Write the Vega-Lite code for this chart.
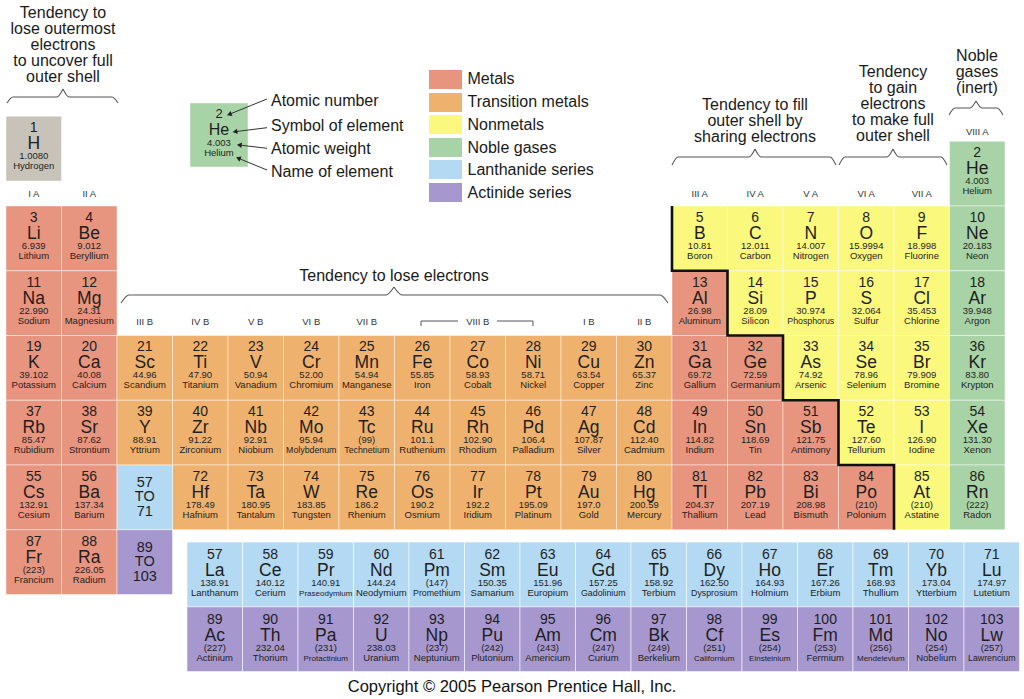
{
  "$schema": "https://vega.github.io/schema/vega-lite/v6.json",
  "width": 1024,
  "height": 699,
  "padding": 0,
  "autosize": {"type": "none"},
  "background": "#ffffff",
  "config": {"view": {"stroke": null}, "text": {"font": "Liberation Sans"}},
  "datasets": {
    "elements": [
      {"n": 1, "s": "H", "w": "1.0080", "name": "Hydrogen", "col": 1, "row": 1, "type": "hydrogen"},
      {"n": 2, "s": "He", "w": "4.003", "name": "Helium", "col": 18, "row": 1, "type": "noble"},
      {"n": 3, "s": "Li", "w": "6.939", "name": "Lithium", "col": 1, "row": 2, "type": "metal"},
      {"n": 4, "s": "Be", "w": "9.012", "name": "Beryllium", "col": 2, "row": 2, "type": "metal"},
      {"n": 5, "s": "B", "w": "10.81", "name": "Boron", "col": 13, "row": 2, "type": "nonmetal"},
      {"n": 6, "s": "C", "w": "12.011", "name": "Carbon", "col": 14, "row": 2, "type": "nonmetal"},
      {"n": 7, "s": "N", "w": "14.007", "name": "Nitrogen", "col": 15, "row": 2, "type": "nonmetal"},
      {"n": 8, "s": "O", "w": "15.9994", "name": "Oxygen", "col": 16, "row": 2, "type": "nonmetal"},
      {"n": 9, "s": "F", "w": "18.998", "name": "Fluorine", "col": 17, "row": 2, "type": "nonmetal"},
      {"n": 10, "s": "Ne", "w": "20.183", "name": "Neon", "col": 18, "row": 2, "type": "noble"},
      {"n": 11, "s": "Na", "w": "22.990", "name": "Sodium", "col": 1, "row": 3, "type": "metal"},
      {"n": 12, "s": "Mg", "w": "24.31", "name": "Magnesium", "col": 2, "row": 3, "type": "metal"},
      {"n": 13, "s": "Al", "w": "26.98", "name": "Aluminum", "col": 13, "row": 3, "type": "metal"},
      {"n": 14, "s": "Si", "w": "28.09", "name": "Silicon", "col": 14, "row": 3, "type": "nonmetal"},
      {"n": 15, "s": "P", "w": "30.974", "name": "Phosphorus", "col": 15, "row": 3, "type": "nonmetal"},
      {"n": 16, "s": "S", "w": "32.064", "name": "Sulfur", "col": 16, "row": 3, "type": "nonmetal"},
      {"n": 17, "s": "Cl", "w": "35.453", "name": "Chlorine", "col": 17, "row": 3, "type": "nonmetal"},
      {"n": 18, "s": "Ar", "w": "39.948", "name": "Argon", "col": 18, "row": 3, "type": "noble"},
      {"n": 19, "s": "K", "w": "39.102", "name": "Potassium", "col": 1, "row": 4, "type": "metal"},
      {"n": 20, "s": "Ca", "w": "40.08", "name": "Calcium", "col": 2, "row": 4, "type": "metal"},
      {"n": 21, "s": "Sc", "w": "44.96", "name": "Scandium", "col": 3, "row": 4, "type": "transition"},
      {"n": 22, "s": "Ti", "w": "47.90", "name": "Titanium", "col": 4, "row": 4, "type": "transition"},
      {"n": 23, "s": "V", "w": "50.94", "name": "Vanadium", "col": 5, "row": 4, "type": "transition"},
      {"n": 24, "s": "Cr", "w": "52.00", "name": "Chromium", "col": 6, "row": 4, "type": "transition"},
      {"n": 25, "s": "Mn", "w": "54.94", "name": "Manganese", "col": 7, "row": 4, "type": "transition"},
      {"n": 26, "s": "Fe", "w": "55.85", "name": "Iron", "col": 8, "row": 4, "type": "transition"},
      {"n": 27, "s": "Co", "w": "58.93", "name": "Cobalt", "col": 9, "row": 4, "type": "transition"},
      {"n": 28, "s": "Ni", "w": "58.71", "name": "Nickel", "col": 10, "row": 4, "type": "transition"},
      {"n": 29, "s": "Cu", "w": "63.54", "name": "Copper", "col": 11, "row": 4, "type": "transition"},
      {"n": 30, "s": "Zn", "w": "65.37", "name": "Zinc", "col": 12, "row": 4, "type": "transition"},
      {"n": 31, "s": "Ga", "w": "69.72", "name": "Gallium", "col": 13, "row": 4, "type": "metal"},
      {"n": 32, "s": "Ge", "w": "72.59", "name": "Germanium", "col": 14, "row": 4, "type": "metal"},
      {"n": 33, "s": "As", "w": "74.92", "name": "Arsenic", "col": 15, "row": 4, "type": "nonmetal"},
      {"n": 34, "s": "Se", "w": "78.96", "name": "Selenium", "col": 16, "row": 4, "type": "nonmetal"},
      {"n": 35, "s": "Br", "w": "79.909", "name": "Bromine", "col": 17, "row": 4, "type": "nonmetal"},
      {"n": 36, "s": "Kr", "w": "83.80", "name": "Krypton", "col": 18, "row": 4, "type": "noble"},
      {"n": 37, "s": "Rb", "w": "85.47", "name": "Rubidium", "col": 1, "row": 5, "type": "metal"},
      {"n": 38, "s": "Sr", "w": "87.62", "name": "Strontium", "col": 2, "row": 5, "type": "metal"},
      {"n": 39, "s": "Y", "w": "88.91", "name": "Yttrium", "col": 3, "row": 5, "type": "transition"},
      {"n": 40, "s": "Zr", "w": "91.22", "name": "Zirconium", "col": 4, "row": 5, "type": "transition"},
      {"n": 41, "s": "Nb", "w": "92.91", "name": "Niobium", "col": 5, "row": 5, "type": "transition"},
      {"n": 42, "s": "Mo", "w": "95.94", "name": "Molybdenum", "col": 6, "row": 5, "type": "transition"},
      {"n": 43, "s": "Tc", "w": "(99)", "name": "Technetium", "col": 7, "row": 5, "type": "transition"},
      {"n": 44, "s": "Ru", "w": "101.1", "name": "Ruthenium", "col": 8, "row": 5, "type": "transition"},
      {"n": 45, "s": "Rh", "w": "102.90", "name": "Rhodium", "col": 9, "row": 5, "type": "transition"},
      {"n": 46, "s": "Pd", "w": "106.4", "name": "Palladium", "col": 10, "row": 5, "type": "transition"},
      {"n": 47, "s": "Ag", "w": "107.87", "name": "Silver", "col": 11, "row": 5, "type": "transition"},
      {"n": 48, "s": "Cd", "w": "112.40", "name": "Cadmium", "col": 12, "row": 5, "type": "transition"},
      {"n": 49, "s": "In", "w": "114.82", "name": "Indium", "col": 13, "row": 5, "type": "metal"},
      {"n": 50, "s": "Sn", "w": "118.69", "name": "Tin", "col": 14, "row": 5, "type": "metal"},
      {"n": 51, "s": "Sb", "w": "121.75", "name": "Antimony", "col": 15, "row": 5, "type": "metal"},
      {"n": 52, "s": "Te", "w": "127.60", "name": "Tellurium", "col": 16, "row": 5, "type": "nonmetal"},
      {"n": 53, "s": "I", "w": "126.90", "name": "Iodine", "col": 17, "row": 5, "type": "nonmetal"},
      {"n": 54, "s": "Xe", "w": "131.30", "name": "Xenon", "col": 18, "row": 5, "type": "noble"},
      {"n": 55, "s": "Cs", "w": "132.91", "name": "Cesium", "col": 1, "row": 6, "type": "metal"},
      {"n": 56, "s": "Ba", "w": "137.34", "name": "Barium", "col": 2, "row": 6, "type": "metal"},
      {"n": 72, "s": "Hf", "w": "178.49", "name": "Hafnium", "col": 4, "row": 6, "type": "transition"},
      {"n": 73, "s": "Ta", "w": "180.95", "name": "Tantalum", "col": 5, "row": 6, "type": "transition"},
      {"n": 74, "s": "W", "w": "183.85", "name": "Tungsten", "col": 6, "row": 6, "type": "transition"},
      {"n": 75, "s": "Re", "w": "186.2", "name": "Rhenium", "col": 7, "row": 6, "type": "transition"},
      {"n": 76, "s": "Os", "w": "190.2", "name": "Osmium", "col": 8, "row": 6, "type": "transition"},
      {"n": 77, "s": "Ir", "w": "192.2", "name": "Iridium", "col": 9, "row": 6, "type": "transition"},
      {"n": 78, "s": "Pt", "w": "195.09", "name": "Platinum", "col": 10, "row": 6, "type": "transition"},
      {"n": 79, "s": "Au", "w": "197.0", "name": "Gold", "col": 11, "row": 6, "type": "transition"},
      {"n": 80, "s": "Hg", "w": "200.59", "name": "Mercury", "col": 12, "row": 6, "type": "transition"},
      {"n": 81, "s": "Tl", "w": "204.37", "name": "Thallium", "col": 13, "row": 6, "type": "metal"},
      {"n": 82, "s": "Pb", "w": "207.19", "name": "Lead", "col": 14, "row": 6, "type": "metal"},
      {"n": 83, "s": "Bi", "w": "208.98", "name": "Bismuth", "col": 15, "row": 6, "type": "metal"},
      {"n": 84, "s": "Po", "w": "(210)", "name": "Polonium", "col": 16, "row": 6, "type": "metal"},
      {"n": 85, "s": "At", "w": "(210)", "name": "Astatine", "col": 17, "row": 6, "type": "nonmetal"},
      {"n": 86, "s": "Rn", "w": "(222)", "name": "Radon", "col": 18, "row": 6, "type": "noble"},
      {"n": 87, "s": "Fr", "w": "(223)", "name": "Francium", "col": 1, "row": 7, "type": "metal"},
      {"n": 88, "s": "Ra", "w": "226.05", "name": "Radium", "col": 2, "row": 7, "type": "metal"}
    ],
    "fblock": [
      {"n": 57, "s": "La", "w": "138.91", "name": "Lanthanum", "col": 4, "row": 8, "type": "lanthanide"},
      {"n": 58, "s": "Ce", "w": "140.12", "name": "Cerium", "col": 5, "row": 8, "type": "lanthanide"},
      {"n": 59, "s": "Pr", "w": "140.91", "name": "Praseodymium", "col": 6, "row": 8, "type": "lanthanide"},
      {"n": 60, "s": "Nd", "w": "144.24", "name": "Neodymium", "col": 7, "row": 8, "type": "lanthanide"},
      {"n": 61, "s": "Pm", "w": "(147)", "name": "Promethium", "col": 8, "row": 8, "type": "lanthanide"},
      {"n": 62, "s": "Sm", "w": "150.35", "name": "Samarium", "col": 9, "row": 8, "type": "lanthanide"},
      {"n": 63, "s": "Eu", "w": "151.96", "name": "Europium", "col": 10, "row": 8, "type": "lanthanide"},
      {"n": 64, "s": "Gd", "w": "157.25", "name": "Gadolinium", "col": 11, "row": 8, "type": "lanthanide"},
      {"n": 65, "s": "Tb", "w": "158.92", "name": "Terbium", "col": 12, "row": 8, "type": "lanthanide"},
      {"n": 66, "s": "Dy", "w": "162.50", "name": "Dysprosium", "col": 13, "row": 8, "type": "lanthanide"},
      {"n": 67, "s": "Ho", "w": "164.93", "name": "Holmium", "col": 14, "row": 8, "type": "lanthanide"},
      {"n": 68, "s": "Er", "w": "167.26", "name": "Erbium", "col": 15, "row": 8, "type": "lanthanide"},
      {"n": 69, "s": "Tm", "w": "168.93", "name": "Thullium", "col": 16, "row": 8, "type": "lanthanide"},
      {"n": 70, "s": "Yb", "w": "173.04", "name": "Ytterbium", "col": 17, "row": 8, "type": "lanthanide"},
      {"n": 71, "s": "Lu", "w": "174.97", "name": "Lutetium", "col": 18, "row": 8, "type": "lanthanide"},
      {"n": 89, "s": "Ac", "w": "(227)", "name": "Actinium", "col": 4, "row": 9, "type": "actinide"},
      {"n": 90, "s": "Th", "w": "232.04", "name": "Thorium", "col": 5, "row": 9, "type": "actinide"},
      {"n": 91, "s": "Pa", "w": "(231)", "name": "Protactinium", "col": 6, "row": 9, "type": "actinide"},
      {"n": 92, "s": "U", "w": "238.03", "name": "Uranium", "col": 7, "row": 9, "type": "actinide"},
      {"n": 93, "s": "Np", "w": "(237)", "name": "Neptunium", "col": 8, "row": 9, "type": "actinide"},
      {"n": 94, "s": "Pu", "w": "(242)", "name": "Plutonium", "col": 9, "row": 9, "type": "actinide"},
      {"n": 95, "s": "Am", "w": "(243)", "name": "Americium", "col": 10, "row": 9, "type": "actinide"},
      {"n": 96, "s": "Cm", "w": "(247)", "name": "Curium", "col": 11, "row": 9, "type": "actinide"},
      {"n": 97, "s": "Bk", "w": "(249)", "name": "Berkelium", "col": 12, "row": 9, "type": "actinide"},
      {"n": 98, "s": "Cf", "w": "(251)", "name": "Californium", "col": 13, "row": 9, "type": "actinide"},
      {"n": 99, "s": "Es", "w": "(254)", "name": "Einsteinium", "col": 14, "row": 9, "type": "actinide"},
      {"n": 100, "s": "Fm", "w": "(253)", "name": "Fermium", "col": 15, "row": 9, "type": "actinide"},
      {"n": 101, "s": "Md", "w": "(256)", "name": "Mendelevium", "col": 16, "row": 9, "type": "actinide"},
      {"n": 102, "s": "No", "w": "(254)", "name": "Nobelium", "col": 17, "row": 9, "type": "actinide"},
      {"n": 103, "s": "Lw", "w": "(257)", "name": "Lawrencium", "col": 18, "row": 9, "type": "actinide"}
    ],
    "placeholders": [
      {"col": 3, "row": 6, "type": "lanthanide", "label": "57\nTO\n71"},
      {"col": 3, "row": 7, "type": "actinide", "label": "89\nTO\n103"}
    ],
    "key": [
      {"col": 4.3378, "row": 0.4035, "type": "noble", "n": 2, "s": "He", "w": "4.003", "name": "Helium"}
    ],
    "keylabels": [
      {"col": 5.2748, "row": -0.1293, "text": "Atomic number"},
      {"col": 5.2748, "row": 0.2568, "text": "Symbol of element"},
      {"col": 5.2748, "row": 0.6197, "text": "Atomic weight"},
      {"col": 5.2748, "row": 0.9749, "text": "Name of element"}
    ],
    "arrows": [
      {"col": 5.2027, "row": -0.1525, "col2": 4.5225, "row2": 0.0838},
      {"col": 5.2027, "row": 0.2907, "col2": 4.6261, "row2": 0.3521},
      {"col": 5.2027, "row": 0.6089, "col2": 4.7036, "row2": 0.5579},
      {"col": 5.2027, "row": 0.9440, "col2": 4.6856, "row2": 0.7625}
    ],
    "arrowheads": [
      {"col": 4.5225, "row": 0.0838, "ang": 339.2},
      {"col": 4.6261, "row": 0.3521, "ang": 352.9},
      {"col": 4.7036, "row": 0.5579, "ang": 6.8},
      {"col": 4.6856, "row": 0.7625, "ang": 22.2}
    ],
    "legend": [
      {"col": 8.4189, "row": -0.4537, "type": "metal", "label": "Metals"},
      {"col": 8.4189, "row": -0.0985, "type": "transition", "label": "Transition metals"},
      {"col": 8.4189, "row": 0.2413, "type": "nonmetal", "label": "Nonmetals"},
      {"col": 8.4189, "row": 0.5965, "type": "noble", "label": "Noble gases"},
      {"col": 8.4189, "row": 0.9363, "type": "lanthanide", "label": "Lanthanide series"},
      {"col": 8.4189, "row": 1.2915, "type": "actinide", "label": "Actinide series"}
    ],
    "notes": [
      {"col": 1.527, "row": -1.3958, "text": "Tendency to\nlose outermost\nelectrons\nto uncover full\nouter shell"},
      {"col": 7.491, "row": 2.6583, "text": "Tendency to lose electrons"},
      {"col": 13.9955, "row": 0.0174, "text": "Tendency to fill\nouter shell by\nsharing electrons"},
      {"col": 16.482, "row": -0.4923, "text": "Tendency\nto gain\nelectrons\nto make full\nouter shell"},
      {"col": 17.9955, "row": -0.7394, "text": "Noble\ngases\n(inert)"}
    ],
    "groups": [
      {"col": 1, "row": 1.36, "label": "I A"},
      {"col": 2, "row": 1.36, "label": "II A"},
      {"col": 13, "row": 1.36, "label": "III A"},
      {"col": 14, "row": 1.36, "label": "IV A"},
      {"col": 15, "row": 1.36, "label": "V A"},
      {"col": 16, "row": 1.36, "label": "VI A"},
      {"col": 17, "row": 1.36, "label": "VII A"},
      {"col": 18, "row": 0.4, "label": "VIII A"},
      {"col": 3, "row": 3.34, "label": "III B"},
      {"col": 4, "row": 3.34, "label": "IV B"},
      {"col": 5, "row": 3.34, "label": "V B"},
      {"col": 6, "row": 3.34, "label": "VI B"},
      {"col": 7, "row": 3.34, "label": "VII B"},
      {"col": 9, "row": 3.34, "label": "VIII B"},
      {"col": 11, "row": 3.34, "label": "I B"},
      {"col": 12, "row": 3.34, "label": "II B"}
    ],
    "braces": [
      {"seg": "b1L", "i": 0, "col": 0.518, "row": -0.0907},
      {"seg": "b1L", "i": 1, "col": 0.6261, "row": -0.1834},
      {"seg": "b1L", "i": 2, "col": 1.4189, "row": -0.1834},
      {"seg": "b1L", "i": 3, "col": 1.527, "row": -0.3069},
      {"seg": "b1R", "i": 0, "col": 1.527, "row": -0.3069},
      {"seg": "b1R", "i": 1, "col": 1.6351, "row": -0.1834},
      {"seg": "b1R", "i": 2, "col": 2.4099, "row": -0.1834},
      {"seg": "b1R", "i": 3, "col": 2.518, "row": -0.0907},
      {"seg": "b2L", "i": 0, "col": 2.5721, "row": 2.9981},
      {"seg": "b2L", "i": 1, "col": 2.7162, "row": 2.8745},
      {"seg": "b2L", "i": 2, "col": 7.3469, "row": 2.8745},
      {"seg": "b2L", "i": 3, "col": 7.491, "row": 2.751},
      {"seg": "b2R", "i": 0, "col": 7.491, "row": 2.751},
      {"seg": "b2R", "i": 1, "col": 7.6351, "row": 2.8745},
      {"seg": "b2R", "i": 2, "col": 12.2838, "row": 2.8745},
      {"seg": "b2R", "i": 3, "col": 12.4279, "row": 2.9981},
      {"seg": "b3L", "i": 0, "col": 12.5, "row": 0.8668},
      {"seg": "b3L", "i": 1, "col": 12.6081, "row": 0.7432},
      {"seg": "b3L", "i": 2, "col": 13.8874, "row": 0.7432},
      {"seg": "b3L", "i": 3, "col": 13.9955, "row": 0.6197},
      {"seg": "b3R", "i": 0, "col": 13.9955, "row": 0.6197},
      {"seg": "b3R", "i": 1, "col": 14.1036, "row": 0.7432},
      {"seg": "b3R", "i": 2, "col": 15.3469, "row": 0.7432},
      {"seg": "b3R", "i": 3, "col": 15.455, "row": 0.8668},
      {"seg": "b4L", "i": 0, "col": 15.509, "row": 0.8668},
      {"seg": "b4L", "i": 1, "col": 15.6171, "row": 0.7432},
      {"seg": "b4L", "i": 2, "col": 16.3739, "row": 0.7432},
      {"seg": "b4L", "i": 3, "col": 16.482, "row": 0.6197},
      {"seg": "b4R", "i": 0, "col": 16.482, "row": 0.6197},
      {"seg": "b4R", "i": 1, "col": 16.5901, "row": 0.7432},
      {"seg": "b4R", "i": 2, "col": 17.3469, "row": 0.7432},
      {"seg": "b4R", "i": 3, "col": 17.455, "row": 0.8668},
      {"seg": "b5L", "i": 0, "col": 17.491, "row": 0.0946},
      {"seg": "b5L", "i": 1, "col": 17.5991, "row": -0.0135},
      {"seg": "b5L", "i": 2, "col": 17.8694, "row": -0.0135},
      {"seg": "b5L", "i": 3, "col": 17.9775, "row": -0.1216},
      {"seg": "b5R", "i": 0, "col": 17.9775, "row": -0.1216},
      {"seg": "b5R", "i": 1, "col": 18.0856, "row": -0.0135},
      {"seg": "b5R", "i": 2, "col": 18.3559, "row": -0.0135},
      {"seg": "b5R", "i": 3, "col": 18.464, "row": 0.0946}
    ],
    "bracket8": [
      {"seg": "L", "i": 0, "col": 7.9775, "row": 3.3533},
      {"seg": "L", "i": 1, "col": 7.9775, "row": 3.2761},
      {"seg": "L", "i": 2, "col": 8.6441, "row": 3.2761},
      {"seg": "R", "i": 0, "col": 9.3468, "row": 3.2761},
      {"seg": "R", "i": 1, "col": 9.9955, "row": 3.2761},
      {"seg": "R", "i": 2, "col": 9.9955, "row": 3.3533}
    ],
    "staircase": [
      {"i": 0, "col": 12.5, "row": 1.5},
      {"i": 1, "col": 12.5, "row": 2.5},
      {"i": 2, "col": 13.5, "row": 2.5},
      {"i": 3, "col": 13.5, "row": 3.5},
      {"i": 4, "col": 14.5, "row": 3.5},
      {"i": 5, "col": 14.5, "row": 4.5},
      {"i": 6, "col": 15.5, "row": 4.5},
      {"i": 7, "col": 15.5, "row": 5.5},
      {"i": 8, "col": 16.5, "row": 5.5},
      {"i": 9, "col": 16.5, "row": 6.5}
    ],
    "copyright": [
      {"col": 9.6171, "row": 9.0058, "text": "Copyright © 2005 Pearson Prentice Hall, Inc."}
    ]
  },
  "encoding": {
    "x": {"field": "col", "type": "quantitative", "scale": {"domain": [0.3919, 18.8423], "nice": false, "zero": false}, "axis": null},
    "y": {"field": "row", "type": "quantitative", "scale": {"domain": [-1.6815, 9.1139], "reverse": true, "nice": false, "zero": false}, "axis": null}
  },
  "layer": [
    {
      "data": {"name": "elements"},
      "transform": [{"filter": "datum.s !== 'H'"}],
      "layer": [
        {
          "mark": {"type": "point", "shape": "M-1,-1.1667H1V1.1667H-1Z", "size": 3080, "filled": true, "opacity": 1, "stroke": "#ffffff", "strokeOpacity": 0.45, "strokeWidth": 1},
          "encoding": {"color": {"field": "type", "type": "nominal", "scale": {"domain": ["metal", "transition", "nonmetal", "noble", "lanthanide", "actinide", "hydrogen"], "range": ["#E8957F", "#EFB26E", "#FBF87E", "#A8D3A6", "#B3D9F3", "#A698CE", "#C8C3B8"]}, "legend": null}}
        },
        {"mark": {"type": "text", "fontSize": 14, "dy": -16.4, "baseline": "alphabetic", "fill": "#1e1e1e"}, "encoding": {"text": {"field": "n", "type": "nominal"}}},
        {"mark": {"type": "text", "fontSize": 17.5, "dy": 0.6, "baseline": "alphabetic", "fill": "#1e1e1e"}, "encoding": {"text": {"field": "s", "type": "nominal"}}},
        {"mark": {"type": "text", "fontSize": 9.5, "dy": 10.4, "baseline": "alphabetic", "fill": "#1e1e1e"}, "encoding": {"text": {"field": "w", "type": "nominal"}}},
        {"mark": {"type": "text", "dy": 20.6, "baseline": "alphabetic", "fill": "#1e1e1e"}, "encoding": {"text": {"field": "name", "type": "nominal"}, "size": {"condition": [{"test": "length(datum.name) >= 11", "value": 8}, {"test": "length(datum.name) >= 10", "value": 8.8}], "value": 9.5}}}
      ]
    },
    {
      "data": {"name": "elements"},
      "transform": [{"filter": "datum.s === 'H'"}],
      "layer": [
        {
          "mark": {"type": "point", "shape": "M-1,-1.1667H1V1.1667H-1Z", "size": 3080, "filled": true, "opacity": 1, "stroke": "#ffffff", "strokeOpacity": 0.45, "strokeWidth": 1, "yOffset": -25},
          "encoding": {"color": {"field": "type", "type": "nominal", "scale": {"domain": ["metal", "transition", "nonmetal", "noble", "lanthanide", "actinide", "hydrogen"], "range": ["#E8957F", "#EFB26E", "#FBF87E", "#A8D3A6", "#B3D9F3", "#A698CE", "#C8C3B8"]}, "legend": null}}
        },
        {"mark": {"type": "text", "fontSize": 14, "dy": -16.4, "yOffset": -25, "baseline": "alphabetic", "fill": "#1e1e1e"}, "encoding": {"text": {"field": "n", "type": "nominal"}}},
        {"mark": {"type": "text", "fontSize": 17.5, "dy": 0.6, "yOffset": -25, "baseline": "alphabetic", "fill": "#1e1e1e"}, "encoding": {"text": {"field": "s", "type": "nominal"}}},
        {"mark": {"type": "text", "fontSize": 9.5, "dy": 10.4, "yOffset": -25, "baseline": "alphabetic", "fill": "#1e1e1e"}, "encoding": {"text": {"field": "w", "type": "nominal"}}},
        {"mark": {"type": "text", "fontSize": 9.5, "dy": 20.6, "yOffset": -25, "baseline": "alphabetic", "fill": "#1e1e1e"}, "encoding": {"text": {"field": "name", "type": "nominal"}}}
      ]
    },
    {
      "data": {"name": "fblock"},
      "layer": [
        {
          "mark": {"type": "point", "shape": "M-1,-1.1667H1V1.1667H-1Z", "size": 3080, "filled": true, "opacity": 1, "stroke": "#ffffff", "strokeOpacity": 0.55, "strokeWidth": 1, "xOffset": 14.5, "yOffset": -52.4},
          "encoding": {"color": {"field": "type", "type": "nominal", "scale": {"domain": ["metal", "transition", "nonmetal", "noble", "lanthanide", "actinide", "hydrogen"], "range": ["#E8957F", "#EFB26E", "#FBF87E", "#A8D3A6", "#B3D9F3", "#A698CE", "#C8C3B8"]}, "legend": null}}
        },
        {"mark": {"type": "text", "fontSize": 14, "dy": -15.4, "xOffset": 14.5, "yOffset": -52.4, "baseline": "alphabetic", "fill": "#1e1e1e"}, "encoding": {"text": {"field": "n", "type": "nominal"}}},
        {"mark": {"type": "text", "fontSize": 17.5, "dy": 1.6, "xOffset": 14.5, "yOffset": -52.4, "baseline": "alphabetic", "fill": "#1e1e1e"}, "encoding": {"text": {"field": "s", "type": "nominal"}}},
        {"mark": {"type": "text", "fontSize": 9.5, "dy": 11.6, "xOffset": 14.5, "yOffset": -52.4, "baseline": "alphabetic", "fill": "#1e1e1e"}, "encoding": {"text": {"field": "w", "type": "nominal"}}},
        {"mark": {"type": "text", "dy": 21.6, "xOffset": 14.5, "yOffset": -52.4, "baseline": "alphabetic", "fill": "#1e1e1e"}, "encoding": {"text": {"field": "name", "type": "nominal"}, "size": {"condition": [{"test": "length(datum.name) >= 11", "value": 8}, {"test": "length(datum.name) >= 10", "value": 8.8}], "value": 9.5}}}
      ]
    },
    {
      "data": {"name": "placeholders"},
      "layer": [
        {
          "mark": {"type": "point", "shape": "M-1,-1.1667H1V1.1667H-1Z", "size": 3080, "filled": true, "opacity": 1, "stroke": "#ffffff", "strokeOpacity": 0.45, "strokeWidth": 1},
          "encoding": {"color": {"field": "type", "type": "nominal", "scale": {"domain": ["metal", "transition", "nonmetal", "noble", "lanthanide", "actinide", "hydrogen"], "range": ["#E8957F", "#EFB26E", "#FBF87E", "#A8D3A6", "#B3D9F3", "#A698CE", "#C8C3B8"]}, "legend": null}}
        },
        {"mark": {"type": "text", "fontSize": 14.5, "dy": -10.4, "lineBreak": "\n", "lineHeight": 14.5, "baseline": "alphabetic", "fill": "#1e1e1e"}, "encoding": {"text": {"field": "label", "type": "nominal"}}}
      ]
    },
    {
      "data": {"name": "staircase"},
      "mark": {"type": "line", "stroke": "#111111", "strokeWidth": 2.6, "strokeJoin": "miter"},
      "encoding": {"order": {"field": "i", "type": "quantitative"}}
    },
    {
      "data": {"name": "key"},
      "layer": [
        {
          "mark": {"type": "point", "shape": "M-1,-1.1034H1V1.1034H-1Z", "size": 3364, "filled": true, "opacity": 1, "stroke": "#ffffff", "strokeOpacity": 0.45, "strokeWidth": 1},
          "encoding": {"color": {"field": "type", "type": "nominal", "scale": {"domain": ["metal", "transition", "nonmetal", "noble", "lanthanide", "actinide", "hydrogen"], "range": ["#E8957F", "#EFB26E", "#FBF87E", "#A8D3A6", "#B3D9F3", "#A698CE", "#C8C3B8"]}, "legend": null}}
        },
        {"mark": {"type": "text", "fontSize": 13, "dy": -17, "baseline": "alphabetic", "fill": "#1e1e1e"}, "encoding": {"text": {"field": "n", "type": "nominal"}}},
        {"mark": {"type": "text", "fontSize": 16, "dy": 0, "baseline": "alphabetic", "fill": "#1e1e1e"}, "encoding": {"text": {"field": "s", "type": "nominal"}}},
        {"mark": {"type": "text", "fontSize": 9.5, "dy": 10.5, "baseline": "alphabetic", "fill": "#1e1e1e"}, "encoding": {"text": {"field": "w", "type": "nominal"}}},
        {"mark": {"type": "text", "fontSize": 9.5, "dy": 21, "baseline": "alphabetic", "fill": "#1e1e1e"}, "encoding": {"text": {"field": "name", "type": "nominal"}}}
      ]
    },
    {
      "data": {"name": "arrows"},
      "mark": {"type": "rule", "stroke": "#333333", "strokeWidth": 1},
      "encoding": {
        "x2": {"field": "col2"},
        "y2": {"field": "row2"}
      }
    },
    {
      "data": {"name": "arrowheads"},
      "mark": {"type": "point", "shape": "triangle-left", "size": 30, "filled": true, "opacity": 1, "fill": "#222222"},
      "encoding": {"angle": {"field": "ang", "type": "quantitative", "scale": null}}
    },
    {
      "data": {"name": "keylabels"},
      "mark": {"type": "text", "fontSize": 16, "align": "left", "baseline": "middle", "fill": "#1a1a1a"},
      "encoding": {"text": {"field": "text", "type": "nominal"}}
    },
    {
      "data": {"name": "legend"},
      "layer": [
        {
          "mark": {"type": "point", "shape": "M-1,-0.5758H1V0.5758H-1Z", "size": 1089, "filled": true, "opacity": 1},
          "encoding": {"color": {"field": "type", "type": "nominal", "scale": {"domain": ["metal", "transition", "nonmetal", "noble", "lanthanide", "actinide", "hydrogen"], "range": ["#E8957F", "#EFB26E", "#FBF87E", "#A8D3A6", "#B3D9F3", "#A698CE", "#C8C3B8"]}, "legend": null}}
        },
        {
          "mark": {"type": "text", "fontSize": 16, "align": "left", "baseline": "middle", "dx": 22, "fill": "#1a1a1a"},
          "encoding": {"text": {"field": "label", "type": "nominal"}}
        }
      ]
    },
    {
      "data": {"name": "notes"},
      "mark": {"type": "text", "fontSize": 16, "lineBreak": "\n", "lineHeight": 16, "align": "center", "baseline": "alphabetic", "fill": "#1a1a1a"},
      "encoding": {"text": {"field": "text", "type": "nominal"}}
    },
    {
      "data": {"name": "groups"},
      "mark": {"type": "text", "fontSize": 9.5, "align": "center", "baseline": "alphabetic", "fill": "#333333"},
      "encoding": {"text": {"field": "label", "type": "nominal"}}
    },
    {
      "data": {"name": "braces"},
      "mark": {"type": "line", "interpolate": "monotone", "stroke": "#555555", "strokeWidth": 1.1},
      "encoding": {"detail": {"field": "seg", "type": "nominal"}, "order": {"field": "i", "type": "quantitative"}}
    },
    {
      "data": {"name": "bracket8"},
      "mark": {"type": "line", "stroke": "#555555", "strokeWidth": 1},
      "encoding": {"detail": {"field": "seg", "type": "nominal"}, "order": {"field": "i", "type": "quantitative"}}
    },
    {
      "data": {"name": "copyright"},
      "mark": {"type": "text", "fontSize": 16.5, "align": "center", "baseline": "alphabetic", "fill": "#111111"},
      "encoding": {"text": {"field": "text", "type": "nominal"}}
    }
  ]
}
